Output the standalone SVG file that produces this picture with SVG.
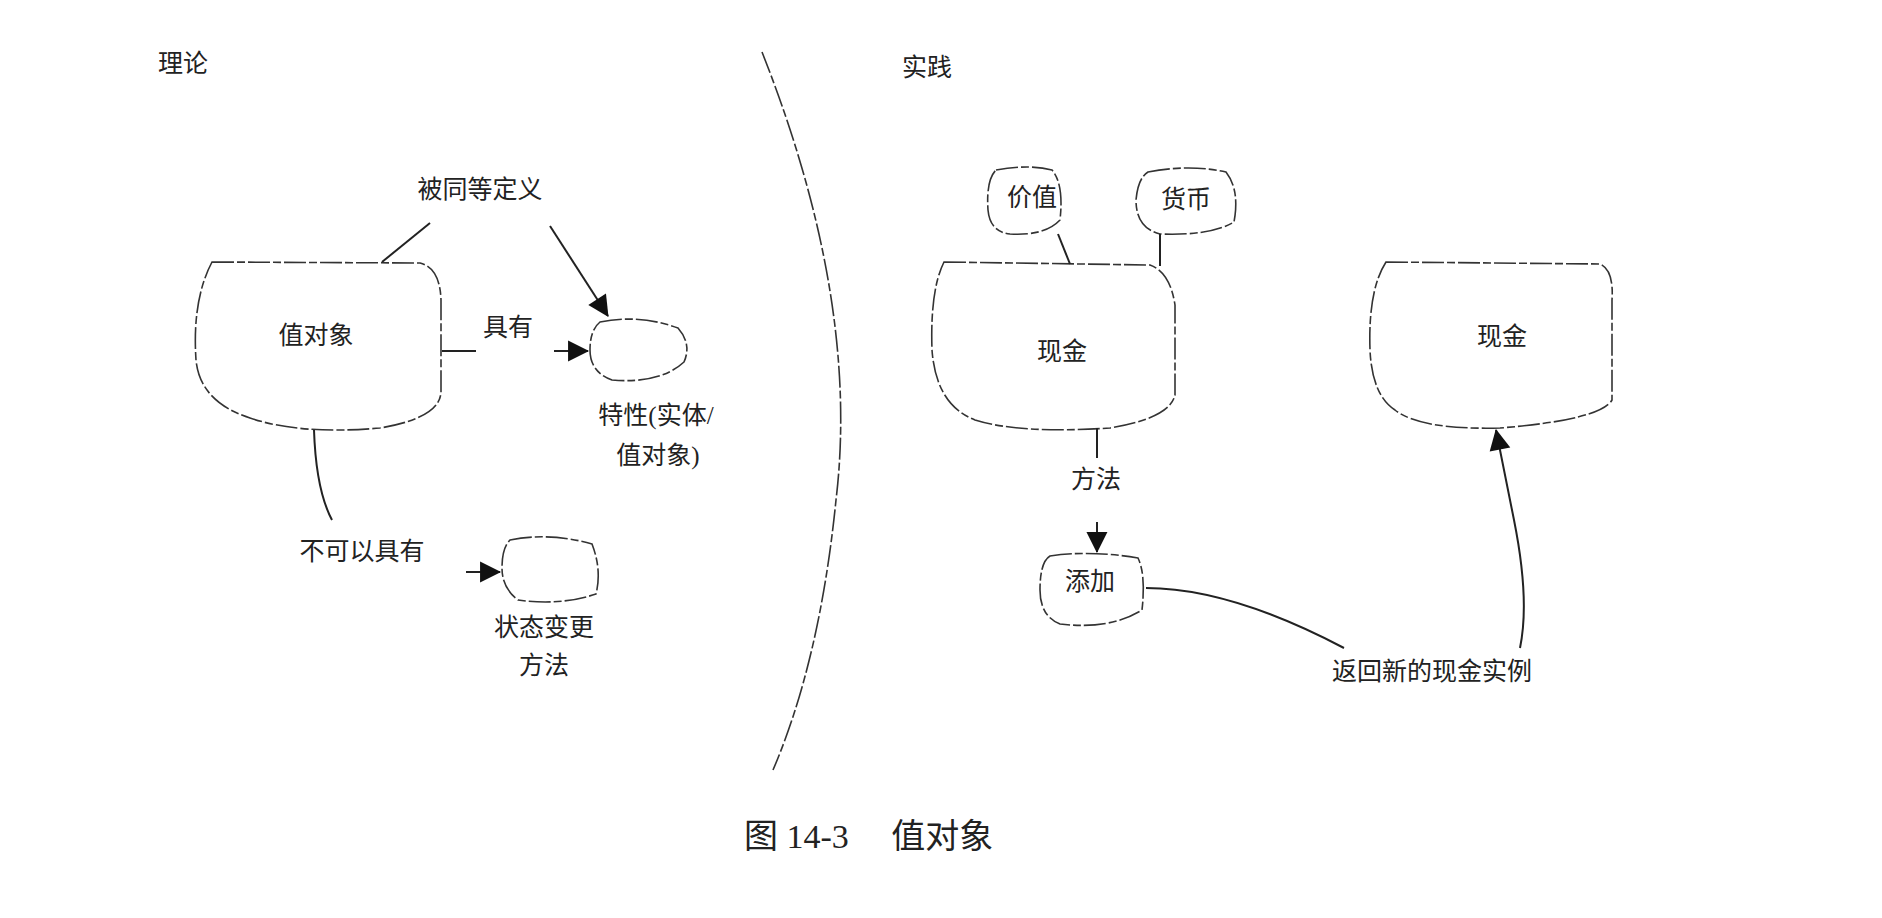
<svg xmlns="http://www.w3.org/2000/svg" width="1882" height="918" viewBox="0 0 1882 918">
<style>
text{font-family:"Liberation Serif","Noto Sans CJK SC",serif;fill:#222;font-size:25px}
.c{text-anchor:middle}
.shape{fill:none;stroke:#333;stroke-width:1.6;stroke-dasharray:22 3 8 3}
.ln{fill:none;stroke:#222;stroke-width:2}
</style>
<defs>
<marker id="ah" viewBox="0 0 10 10" refX="9" refY="5" markerWidth="7" markerHeight="7" markerUnits="userSpaceOnUse" orient="auto" style="overflow:visible">
<path d="M0,0 L10,5 L0,10 z" fill="#111" transform="scale(3) translate(-6.5,-3.3)"/>
</marker>
</defs>
<rect width="1882" height="918" fill="#fff"/>
<text x="158" y="72">理论</text>
<text x="902" y="76">实践</text>
<path class="shape" d="M762,52 Q860,300 836,500 Q820,660 773,770" stroke-dasharray="16 10"/>
<g id="value-object">
<path class="shape" d="M212,262 L420,263 Q440,268 441,300 L441,392 Q440,418 380,428 Q300,435 250,418 Q200,402 196,360 Q192,300 212,262 Z"/>
<text class="c" x="316" y="344">值对象</text>
</g>
<g id="property">
<path class="shape" d="M600,322 Q640,314 678,328 Q692,344 684,362 Q660,384 612,380 Q590,372 590,350 Q590,330 600,322 Z"/>
<text class="c" x="656" y="424">特性(实体/</text>
<text class="c" x="658" y="464">值对象)</text>
</g>
<g id="state-method">
<path class="shape" d="M510,540 Q550,532 592,544 Q602,570 596,594 Q560,606 518,600 Q502,588 502,568 Q502,548 510,540 Z"/>
<text class="c" x="544" y="636">状态变更</text>
<text class="c" x="544" y="674">方法</text>
</g>
<g id="value">
<path class="shape" d="M996,170 Q1030,164 1052,170 Q1064,184 1060,220 Q1045,236 1010,234 Q990,232 988,210 Q986,180 996,170 Z"/>
<text class="c" x="1032" y="206">价值</text>
</g>
<g id="currency">
<path class="shape" d="M1148,172 Q1190,164 1226,172 Q1240,190 1234,222 Q1210,236 1160,234 Q1136,228 1136,200 Q1138,178 1148,172 Z"/>
<text class="c" x="1186" y="208">货币</text>
</g>
<g id="cash1">
<path class="shape" d="M944,262 L1150,265 Q1170,272 1175,305 L1175,395 Q1170,418 1110,428 Q1020,434 975,420 Q936,405 932,350 Q930,290 944,262 Z"/>
<text class="c" x="1062" y="360">现金</text>
</g>
<g id="add">
<path class="shape" d="M1050,556 Q1090,550 1138,558 Q1146,575 1142,610 Q1110,630 1060,624 Q1040,616 1040,590 Q1040,562 1050,556 Z"/>
<text class="c" x="1090" y="590">添加</text>
</g>
<g id="cash2">
<path class="shape" d="M1386,262 L1600,264 Q1614,270 1612,300 L1612,400 Q1600,420 1500,428 Q1420,430 1395,410 Q1372,395 1370,350 Q1368,290 1386,262 Z"/>
<text class="c" x="1502" y="345">现金</text>
</g>
<g id="connectors">
<text class="c" x="480" y="198">被同等定义</text>
<path class="ln" d="M430,223 L382,262"/>
<path class="ln" d="M550,226 L608,316" marker-end="url(#ah)"/>
<path class="ln" d="M442,351 L476,351"/>
<text class="c" x="508" y="336">具有</text>
<path class="ln" d="M554,351 L588,351" marker-end="url(#ah)"/>
<path class="ln" d="M314,430 Q316,490 332,520"/>
<text class="c" x="362" y="560">不可以具有</text>
<path class="ln" d="M466,572 L500,572" marker-end="url(#ah)"/>
<path class="ln" d="M1058,234 L1070,264"/>
<path class="ln" d="M1160,234 L1160,266"/>
<path class="ln" d="M1097,428 L1097,458"/>
<text class="c" x="1096" y="488">方法</text>
<path class="ln" d="M1097,522 L1097,552" marker-end="url(#ah)"/>
<path class="ln" d="M1146,588 Q1230,588 1344,648"/>
<text class="c" x="1432" y="680">返回新的现金实例</text>
<path class="ln" d="M1520,648 Q1530,600 1514,520 Q1504,470 1496,430" marker-end="url(#ah)"/>
</g>
<text x="744" y="848" style="font-size:34px">图 14-3　 值对象</text>
</svg>
